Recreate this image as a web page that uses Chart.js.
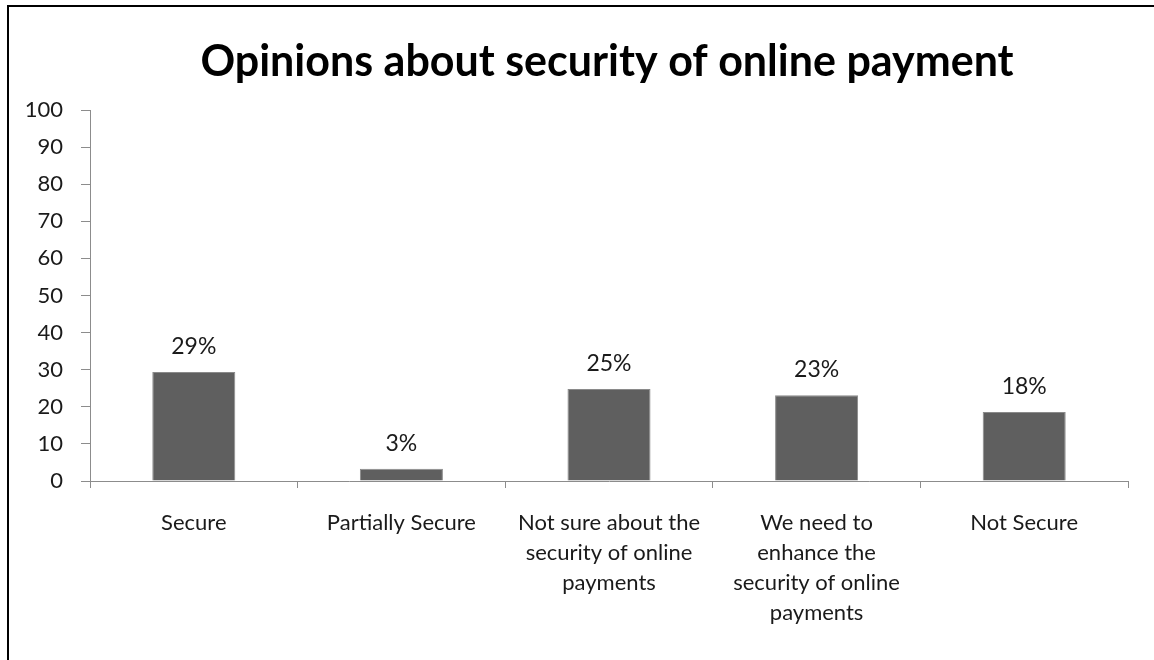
<!DOCTYPE html>
<html>
<head>
<meta charset="utf-8">
<script src="https://cdn.jsdelivr.net/npm/chart.js@4/dist/chart.umd.min.js"></script>
<style>
  html, body { margin: 0; padding: 0; background: #fff; }
  #wrap { position: relative; width: 1154px; height: 660px; overflow: hidden; }
  #frame { position: absolute; left: 7px; top: 5px; right: -10px; bottom: -10px;
           border-left: 2px solid #000; border-top: 2px solid #000; }
  canvas { position: absolute; left: 0; top: 0; }
</style>
</head>
<body>
<div id="wrap">
  <div id="frame"></div>
  <canvas id="c" width="1154" height="660"></canvas>
</div>
<script>
const title = "Opinions about security of online payment";
const categories = [
  ["Secure"],
  ["Partially Secure"],
  ["Not sure about the", "security of online", "payments"],
  ["We need to", "enhance the", "security of online", "payments"],
  ["Not Secure"]
];
const values = [29.4, 3.3, 24.8, 23.1, 18.6];
const valueLabels = ["29%", "3%", "25%", "23%", "18%"];
const yTicksMin = 0, yTicksMax = 100, yTicksStep = 10;

const FONT = "Lato, 'Open Sans', sans-serif";
const TEXT = "#1a1a1a";
const AXIS = "#8c8c8c";

const barLabels = {
  id: 'barLabels',
  afterDatasetsDraw(chart) {
    const ctx = chart.ctx;
    const meta = chart.getDatasetMeta(0);
    ctx.save();
    ctx.font = "23px " + FONT;
    ctx.fillStyle = TEXT;
    ctx.textAlign = 'center';
    ctx.textBaseline = 'alphabetic';
    meta.data.forEach((bar, i) => {
      ctx.fillText(valueLabels[i], bar.x, bar.y - 18);
    });
    ctx.restore();
  }
};

const chartTitle = {
  id: 'chartTitle',
  afterDraw(chart) {
    const ctx = chart.ctx;
    const a = chart.chartArea;
    ctx.save();
    ctx.font = "bold 43px " + FONT;
    ctx.fillStyle = '#000';
    ctx.textAlign = 'center';
    ctx.textBaseline = 'alphabetic';
    ctx.fillText(title, (a.left + a.right) / 2 - 2, 76);
    ctx.restore();
  }
};

new Chart(document.getElementById('c'), {
  type: 'bar',
  data: {
    labels: categories,
    datasets: [{
      data: values,
      backgroundColor: '#5f5f5f',
      borderColor: '#8a8a8a',
      borderWidth: 1,
      barPercentage: 0.8,
      categoryPercentage: 0.5
    }]
  },
  options: {
    responsive: false,
    animation: false,
    layout: { padding: { left: 0, right: 26, top: 110, bottom: 0 } },
    plugins: {
      legend: { display: false },
      tooltip: { enabled: false },
      title: { display: false }
    },
    scales: {
      x: {
        afterFit(s) { s.height = 179; },
        grid: { drawOnChartArea: false, drawTicks: true, tickLength: 7, color: AXIS, offset: true },
        border: { color: AXIS, width: 1 },
        ticks: { color: TEXT, font: { family: FONT, size: 22, lineHeight: 1.36 }, padding: 20, maxRotation: 0, autoSkip: false }
      },
      y: {
        min: yTicksMin, max: yTicksMax,
        afterFit(s) { s.width = 90; },
        grid: { drawOnChartArea: false, drawTicks: true, tickLength: 9, color: AXIS },
        border: { color: AXIS, width: 1 },
        ticks: { stepSize: yTicksStep, color: TEXT, font: { family: FONT, size: 22 }, padding: 18 }
      }
    }
  },
  plugins: [barLabels, chartTitle]
});
</script>
</body>
</html>
